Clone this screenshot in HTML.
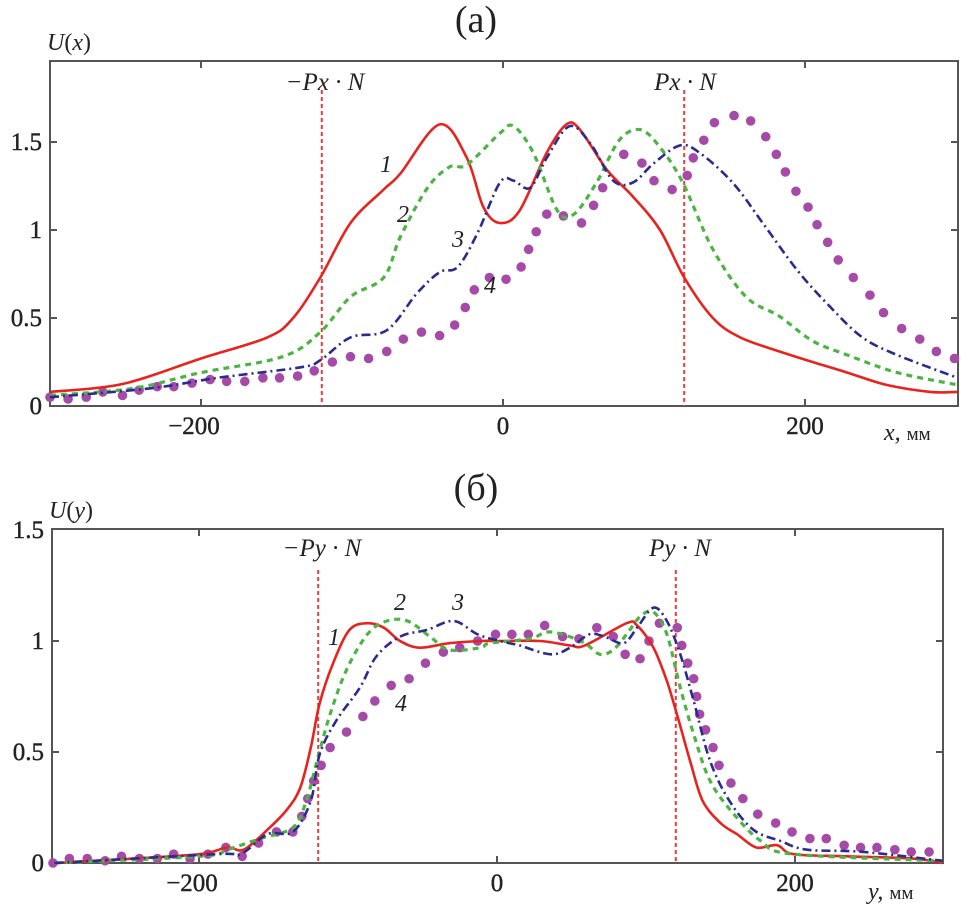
<!DOCTYPE html>
<html><head><meta charset="utf-8"><style>
html,body{margin:0;padding:0;background:#fff;}
svg{display:block;}
text{font-family:"Liberation Serif",serif;fill:#222;}
</style></head><body>
<svg id="chart" width="968" height="912" viewBox="0 0 968 912"></svg>
<script>
// ---- Panel (a) data ----
const aRedX=[-300,-252,-200,-156,-139,-121,-101,-79,-68,-42,-24,-13,-2,11,29,42,51,69,86,104,120,139,157,183,205,228,254,283,301];
const aRedV=[.08,.125,.27,.39,.5,.73,1.04,1.23,1.32,1.6,1.41,1.13,1.04,1.11,1.44,1.6,1.57,1.34,1.19,1.0,.73,.5,.39,.31,.25,.19,.12,.08,.08];
const aGreenX=[-300,-245,-200,-146,-121,-101,-79,-68,-50,-35,-24,-2,7,20,36,47,62,77,91,104,119,139,161,183,205,228,261,301];
const aGreenV=[.06,.10,.19,.28,.42,.62,.73,.96,1.24,1.36,1.37,1.55,1.59,1.44,1.11,1.09,1.27,1.51,1.57,1.47,1.27,.89,.62,.51,.37,.29,.19,.12];
const aBlueX=[-300,-234,-189,-134,-121,-101,-77,-57,-42,-30,-17,-2,7,18,29,44,58,73,86,100,117,130,152,172,195,217,238,261,301];
const aBlueV=[.05,.10,.16,.22,.26,.39,.43,.64,.76,.79,.98,1.27,1.28,1.24,1.41,1.59,1.49,1.28,1.27,1.38,1.48,1.44,1.27,1.04,.77,.56,.39,.29,.16];
const aDotX=[-300,-288,-276,-265,-252,-241,-229,-218,-206,-194,-183,-171,-159,-148,-136,-125,-113,-101,-89,-77,-66,-54,-42,-32,-25,-19,-9,2,12,17,22,29,40,52,60,66,80,92,100,112,122,126,133,140,153,164,174,181,187,194,202,208,215,222,232,243,252,264,276,287,299];
const aDotV=[.05,.04,.05,.08,.06,.09,.11,.11,.13,.15,.14,.14,.16,.16,.17,.20,.25,.28,.27,.31,.38,.42,.40,.46,.56,.66,.73,.72,.79,.89,.99,1.09,1.08,1.04,1.14,1.24,1.43,1.38,1.28,1.23,1.31,1.41,1.51,1.61,1.65,1.62,1.53,1.43,1.33,1.22,1.13,1.03,.93,.83,.73,.63,.53,.44,.38,.31,.27];
// ---- Panel (b) data ----
const bRedX=[-297,-244,-199,-181,-170,-154,-141,-132,-125,-119,-110,-99,-87,-76,-65,-52,-32,-11,2,29,49,59,87,94,105,114,122,130,138,150,161,174,188,199,235,279,299];
const bRedV=[0,.02,.04,.07,.06,.15,.24,.34,.52,.72,.90,1.05,1.08,1.06,1.0,.97,.99,1.0,1.0,1.0,.98,.98,1.08,1.07,.97,.82,.64,.45,.28,.18,.13,.07,.08,.04,.03,.02,0];
const bGreenX=[-297,-199,-181,-159,-137,-128,-120,-112,-101,-87,-74,-60,-45,-32,-11,-5,22,33,44,59,69,78,87,96,105,114,123,132,143,159,177,199,299];
const bGreenV=[0,.03,.06,.11,.16,.28,.48,.67,.87,1.03,1.09,1.09,1.02,.96,.97,.99,1.01,1.04,1.03,.99,.94,.96,1.03,1.11,1.13,1.03,.79,.58,.37,.22,.10,.04,.01];
const bBlueX=[-297,-188,-172,-154,-137,-125,-119,-108,-92,-81,-65,-47,-29,-13,2,15,36,49,62,72,85,94,105,114,123,132,143,156,172,190,208,246,299];
const bBlueV=[0,.04,.04,.13,.14,.28,.49,.64,.79,.93,1.02,1.05,1.09,1.03,1.0,.98,.94,.97,1.03,1.02,.99,1.06,1.15,1.09,.94,.73,.46,.28,.15,.10,.06,.05,.01];
const bDotX=[-298,-287,-275,-263,-252,-240,-228,-217,-206,-194,-182,-171,-160,-148,-137,-131,-127,-123,-118,-112,-101,-90,-82,-71,-59,-48,-36,-25,-13,-1,10,21,32,44,55,67,78,86,96,102,109,121,124,128,132,134,136,140,145,149,157,165,175,187,198,210,221,233,244,255,267,278,290];
const bDotV=[0,.02,.02,.01,.03,.02,.02,.04,.02,.04,.07,.03,.09,.14,.14,.21,.29,.37,.44,.52,.59,.66,.73,.80,.83,.90,.95,.97,1.0,1.03,1.03,1.03,1.07,1.02,1.01,1.06,1.02,.94,.92,1.0,1.08,1.06,.98,.90,.83,.75,.67,.60,.52,.44,.36,.29,.22,.18,.14,.11,.11,.08,.07,.07,.06,.05,.05];
const xTicks=[-200,0,200];
const xTickLabels=["−200","0","200"];
const aYTicks=[0,0.5,1,1.5];
const aYTickLabels=["0","0.5","1","1.5"];
const bYTicks=[0,0.5,1,1.5];
const bYTickLabels=["0","0.5","1","1.5"];
const markerX=[-120,120];

const NS="http://www.w3.org/2000/svg";
const svg=document.getElementById('chart');
function mk(tag,attrs,parent){const e=document.createElementNS(NS,tag);for(const k in attrs)e.setAttribute(k,attrs[k]);(parent||svg).appendChild(e);return e;}

const panels=[
 {key:'a',L:50,R:958,T:61,B:406,x0:503,sx:1.51,y0:406,sy:176,yt:aYTicks,ytl:aYTickLabels,
  series:[[aRedX,aRedV],[aGreenX,aGreenV],[aBlueX,aBlueV]],dots:[aDotX,aDotV]},
 {key:'b',L:52,R:943,T:529,B:863,x0:497,sx:1.49,y0:863,sy:222,yt:bYTicks,ytl:bYTickLabels,
  series:[[bRedX,bRedV],[bGreenX,bGreenV],[bBlueX,bBlueV]],dots:[bDotX,bDotV]}
];
const styles=[
 {stroke:'#e8231f',w:2.6,dash:null,name:'curve-1'},
 {stroke:'#4cb443',w:3.2,dash:'6 5',name:'curve-2'},
 {stroke:'#2b2b8f',w:2.6,dash:'9 4 2 4',name:'curve-3'}
];
function smoothPath(pts){
 let d='M'+pts[0][0].toFixed(1)+','+pts[0][1].toFixed(1);
 for(let i=0;i<pts.length-1;i++){
  const p0=pts[Math.max(0,i-1)],p1=pts[i],p2=pts[i+1],p3=pts[Math.min(pts.length-1,i+2)];
  const c1x=p1[0]+(p2[0]-p0[0])/6,c1y=p1[1]+(p2[1]-p0[1])/6;
  const c2x=p2[0]-(p3[0]-p1[0])/6,c2y=p2[1]-(p3[1]-p1[1])/6;
  d+=' C'+c1x.toFixed(1)+','+c1y.toFixed(1)+' '+c2x.toFixed(1)+','+c2y.toFixed(1)+' '+p2[0].toFixed(1)+','+p2[1].toFixed(1);
 }
 return d;
}
panels.forEach(p=>{
 const X=v=>p.x0+v*p.sx, Y=v=>p.y0-v*p.sy;
 const g=mk('g',{});
 
 
 const fr=mk('rect',{x:p.L,y:p.T,width:p.R-p.L,height:p.B-p.T,fill:'none',stroke:'#555','stroke-width':2},g);
 
 
 xTicks.forEach((t,i)=>{
  mk('line',{x1:X(t),x2:X(t),y1:p.B,y2:p.B-7,stroke:'#555','stroke-width':2},g);
  mk('line',{x1:X(t),x2:X(t),y1:p.T,y2:p.T+7,stroke:'#555','stroke-width':2},g);
  const tx=mk('text',{x:X(t)-(t<0?7:0),y:p.B+28,'text-anchor':'middle','font-size':25,'stroke':'#222','stroke-width':0.4},g);
  tx.textContent=xTickLabels[i];
  
  
 });
 p.yt.forEach((t,i)=>{
  if(t>0 && Y(t)>p.T+2){
   mk('line',{x1:p.L,x2:p.L+7,y1:Y(t),y2:Y(t),stroke:'#555','stroke-width':2},g);
   mk('line',{x1:p.R,x2:p.R-7,y1:Y(t),y2:Y(t),stroke:'#555','stroke-width':2},g);
  }
  const ty=mk('text',{x:p.L-8,y:Y(t)+8,'text-anchor':'end','font-size':25,'stroke':'#222','stroke-width':0.4},g);
  ty.textContent=p.ytl[i];
  
  
 });
 markerX.forEach(m=>{
  const ml=mk('line',{x1:X(m),x2:X(m),y1:p.T+(p.key==='a'?29:41),y2:p.B,stroke:'#f03a3a','stroke-width':2,'stroke-dasharray':'4 3'},g);
  
  
 });
 const dg=mk('g',{},g);
 
 
 p.dots[0].forEach((xv,i)=>{
  const c=mk('circle',{cx:X(xv),cy:Y(p.dots[1][i]),r:4.8,fill:'#a64aa8'},dg);
  
  
 });
 p.series.forEach((s,k)=>{
  const pts=s[0].map((xv,i)=>[X(xv),Y(s[1][i])]);
  const a={d:smoothPath(pts),fill:'none',stroke:styles[k].stroke,'stroke-width':styles[k].w,'stroke-linejoin':'round'};
  if(styles[k].dash)a['stroke-dasharray']=styles[k].dash;
  const pa=mk('path',a,g);
  
  
 });
});
</script>
<svg width="968" height="912" style="position:absolute;left:0;top:0;pointer-events:none">
 <g font-family="Liberation Serif, serif" fill="#222">
  <text x="476" y="32" text-anchor="middle" font-size="38">(а)</text>
  <text x="476" y="500" text-anchor="middle" font-size="38">(б)</text>
  <text x="47" y="50" font-size="24"><tspan font-style="italic">U</tspan>(<tspan font-style="italic">x</tspan>)</text>
  <text x="49" y="518" font-size="24"><tspan font-style="italic">U</tspan>(<tspan font-style="italic">y</tspan>)</text>
  <text x="325" y="90" text-anchor="middle" font-size="25" font-style="italic">−Px · N</text>
  <text x="685" y="90" text-anchor="middle" font-size="25" font-style="italic">Px · N</text>
  <text x="322" y="556" text-anchor="middle" font-size="25" font-style="italic">−Py · N</text>
  <text x="680" y="556" text-anchor="middle" font-size="25" font-style="italic">Py · N</text>
  <text x="884" y="440" font-size="24"><tspan font-style="italic">x,</tspan> <tspan font-size="19">мм</tspan></text>
  <text x="868" y="899" font-size="24"><tspan font-style="italic">y,</tspan> <tspan font-size="19">мм</tspan></text>
  <g font-style="italic" font-size="24">
   <text x="380" y="172">1</text>
   <text x="397" y="222">2</text>
   <text x="452" y="247">3</text>
   <text x="484" y="293">4</text>
   <text x="328" y="645">1</text>
   <text x="394" y="610">2</text>
   <text x="452" y="610">3</text>
   <text x="395" y="711">4</text>
  </g>
 </g>
</svg>
</body></html>
